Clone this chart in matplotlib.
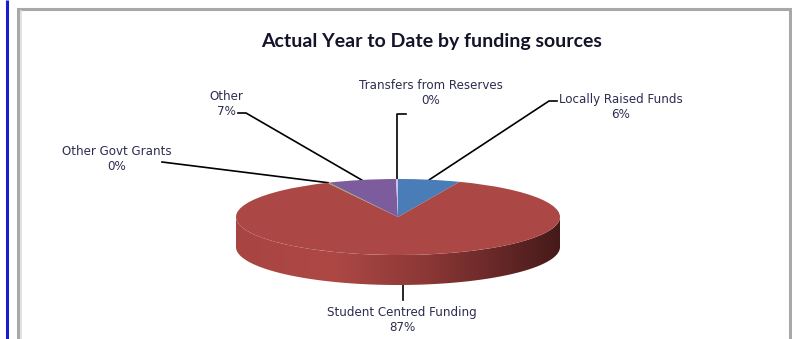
import numpy as np
import matplotlib
matplotlib.use("Agg")
import matplotlib.pyplot as plt
from matplotlib.colors import LinearSegmentedColormap
from matplotlib.patches import Polygon

# funding shares (percent), in the order the slices are laid out clockwise from 12 o'clock
sources = ["Locally Raised Funds", "Student Centred Funding", "Other Govt Grants",
           "Other", "Transfers from Reserves"]
shares = [6.2, 86.6, 0.2, 6.8, 0.2]
slice_colors = ["#4a7cb8", "#ab4744", "#8c9c4c", "#7c5c9c", "#c4c4ea"]

# where each label sits (pixels, figure space)
label_pos = [(621, 107), (402, 320), (117, 159), (226, 104), (431, 93)]
# elbow of each leader line (pixels)
elbow = [(549, 101), (400, 300), (162, 162), (246, 113), (406, 114)]

W, H = 792, 339
fig = plt.figure(figsize=(W / 100, H / 100), dpi=100)
fig.patch.set_facecolor("white")

# overlay axes in pixel coordinates for frame, title, labels and leaders
ov = fig.add_axes([0, 0, 1, 1])
ov.set_xlim(0, W)
ov.set_ylim(H, 0)
ov.axis("off")

# pie geometry (pixels)
cx, cy, rx, ry, depth = 398, 217, 162, 38, 30
d = depth / ry

pax = fig.add_axes([(cx - rx) / W, (H - (cy + ry + depth)) / H,
                    2 * rx / W, (2 * ry + depth) / H])
wedges, _ = pax.pie(shares, colors=slice_colors, startangle=90, counterclock=False,
                    radius=1, wedgeprops=dict(linewidth=0))
for w in wedges:
    w.set_zorder(3)
pax.set_aspect("auto")
pax.axis("off")

# front side of the disc, shaded left to right
t = np.linspace(np.pi, 2 * np.pi, 200)
side = np.vstack([
    np.column_stack([np.cos(t), -d + np.sin(t)]),
    np.column_stack([np.cos(t[::-1]), np.sin(t[::-1])]),
])
side_patch = Polygon(side, closed=True, facecolor="none", edgecolor="none")
pax.add_patch(side_patch)
side_cmap = LinearSegmentedColormap.from_list(
    "side", [(0, "#a84441"), (0.3, "#ad4845"), (0.6, "#8a3735"), (1, "#461a1a")])
grad = np.linspace(0, 1, 256).reshape(1, -1)
img = pax.imshow(grad, cmap=side_cmap, extent=(-1, 1, -1 - d, 0.05),
                 aspect="auto", zorder=2, interpolation="bilinear")
img.set_clip_path(side_patch)
pax.set_xlim(-1, 1)
pax.set_ylim(-1 - d, 1)

# frame
ov.plot([7, 7], [0, H], color="#1a1ad0", lw=2.2, solid_capstyle="butt")
ov.plot([18, 18, 790, 790], [H, 9, 9, H], color="#a8a8a8", lw=2.2,
        solid_joinstyle="miter")
ov.plot([20.5, 20.5], [11, H], color="#dcdcdc", lw=1.2)

ov.text(432, 42, "Actual Year to Date by funding sources", ha="center", va="center",
        fontsize=14, fontweight="bold", family="Lato", color="#141428")

# labels with leader lines anchored on the rim at each slice's mid-angle
bounds = np.cumsum([0] + shares)
txt_color = "#2c2c50"
for i, name in enumerate(sources):
    mid = 90 - (bounds[i] + bounds[i + 1]) / 2 * 3.6
    a = np.radians(mid)
    ax_, ay_ = cx + rx * np.cos(a), cy - ry * np.sin(a)
    if np.sin(a) < 0:
        ay_ += depth
    ex, ey = elbow[i]
    if i == 1:
        ov.plot([ax_, ax_], [ay_, ey], color="black", lw=1.2)
    elif i == 4:
        ov.plot([ax_, ax_, ex], [ay_, ey, ey], color="black", lw=1.2)
    elif i == 2:
        ov.plot([ax_, ex], [ay_, ey], color="black", lw=1.2)
    else:
        lx = ex + (8 if ex > cx else -8)
        ov.plot([ax_, ex, lx], [ay_, ey, ey], color="black", lw=1.2)
    lx, ly = label_pos[i]
    ov.text(lx, ly, f"{name}\n{shares[i]:.0f}%", ha="center", va="center",
            fontsize=8.6, color=txt_color, linespacing=1.25)

fig.savefig("out.png", dpi=100)
